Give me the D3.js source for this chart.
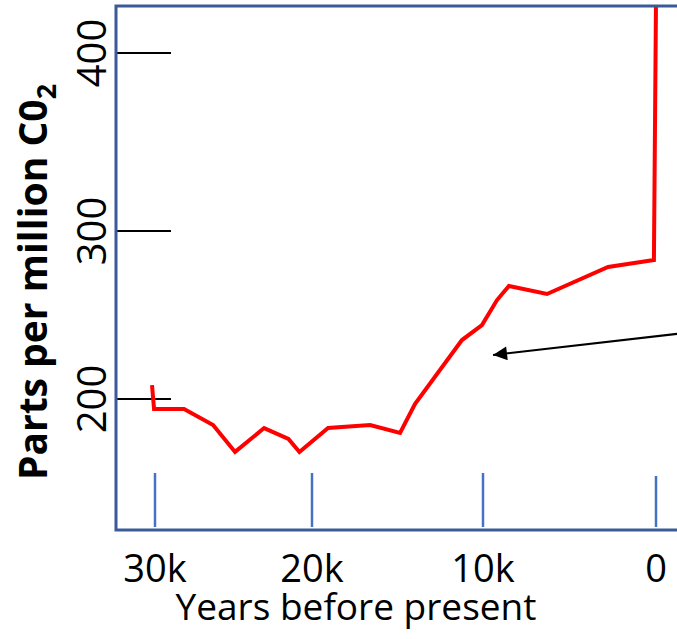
<!DOCTYPE html>
<html>
<head>
<meta charset="utf-8">
<script src="https://cdn.jsdelivr.net/npm/d3@7"></script>
<style>
  body { margin: 0; background: #fff; }
  svg { display: block; }
</style>
</head>
<body>
<div id="chart"></div>
<script>
// CO2 record, years before present (thousands) vs ppm
var years = [30.19, 30.06, 28.15, 26.3, 24.9, 23.05, 21.5, 20.8, 19.06, 16.6, 14.85, 13.98,
             11.23, 10.06, 9.19, 8.5, 6.3, 2.77, 0.12, 0];
var ppm   = [208.3, 194, 194, 184.5, 168.5, 182.7, 176.2, 168.5, 182.7, 184.5, 179.8, 197,
             235.1, 244, 258.9, 267.3, 262.5, 278.6, 282.7, 430];

var xTicks = [30, 20, 10, 0];
var xTickLabels = ['30k', '20k', '10k', '0'];
var yTicks = [200, 300, 400];

// arrow annotation: tail (off to the right) and tip, in data units
var arrowYears = [-3.7, 9.42];
var arrowPpm = [241.7, 226.2];

var width = 677, height = 639;
var frame = {left: 116, top: 6, right: 700, bottom: 530};

var svg = d3.select('#chart').append('svg')
    .attr('width', width)
    .attr('height', height);

// axis spacing in the original is slightly uneven, so piecewise scales
var x = d3.scaleLinear().domain(xTicks).range([155, 312, 483, 656]);
var y = d3.scaleLinear().domain(yTicks).range([399, 231, 53]);

svg.append('defs').append('clipPath')
    .attr('id', 'plotclip')
  .append('rect')
    .attr('x', frame.left)
    .attr('y', frame.top)
    .attr('width', frame.right - frame.left)
    .attr('height', frame.bottom - frame.top);

svg.append('defs').append('marker')
    .attr('id', 'arrowhead')
    .attr('viewBox', '0 0 10 10')
    .attr('refX', 10)
    .attr('refY', 5)
    .attr('markerWidth', 8)
    .attr('markerHeight', 7)
    .attr('markerUnits', 'strokeWidth')
    .attr('orient', 'auto')
  .append('path')
    .attr('d', 'M0,0 L10,5 L0,10 Z')
    .attr('fill', '#000');

// y tick marks (black, inside frame)
svg.selectAll('.ytick')
    .data(yTicks)
  .enter().append('line')
    .attr('x1', frame.left)
    .attr('x2', frame.left + 55)
    .attr('y1', function(d) { return y(d); })
    .attr('y2', function(d) { return y(d); })
    .attr('stroke', '#000')
    .attr('stroke-width', 2);

// y tick labels, rotated
svg.selectAll('.ylabel')
    .data(yTicks)
  .enter().append('text')
    .attr('transform', function(d) { return 'translate(106,' + y(d) + ') rotate(-90)'; })
    .attr('text-anchor', 'middle')
    .style('font', '40px "Open Sans"')
    .attr('fill', '#000')
    .text(function(d) { return d; });

// x tick marks (blue, inside frame)
svg.selectAll('.xtick')
    .data(xTicks)
  .enter().append('line')
    .attr('x1', function(d) { return x(d); })
    .attr('x2', function(d) { return x(d); })
    .attr('y1', function(d, i) { return i == 3 ? 476 : 473; })
    .attr('y2', 527)
    .attr('stroke', '#4472C4')
    .attr('stroke-width', 2.5);

svg.selectAll('.xlabel')
    .data(xTicks)
  .enter().append('text')
    .attr('x', function(d) { return x(d); })
    .attr('y', 582)
    .attr('text-anchor', 'middle')
    .style('font', '38px "Open Sans"')
    .attr('fill', '#000')
    .text(function(d, i) { return xTickLabels[i]; });

// axis titles
svg.append('text')
    .attr('x', 356)
    .attr('y', 620)
    .attr('text-anchor', 'middle')
    .style('font', '37px "Open Sans"')
    .attr('fill', '#000')
    .text('Years before present');

var yTitle = svg.append('text')
    .attr('transform', 'translate(47,' + 282 + ') rotate(-90)')
    .attr('text-anchor', 'middle')
    .style('font', 'bold 39px "Open Sans"')
    .attr('fill', '#000');
yTitle.append('tspan').text('Parts per million C0');
yTitle.append('tspan')
    .attr('dy', 9)
    .style('font-size', '27px')
    .text('2');

// CO2 line
var data = years.map(function(d, i) { return {year: d, value: ppm[i]}; });

var line = d3.line()
    .x(function(d) { return x(d.year); })
    .y(function(d) { return y(d.value); });

svg.append('path')
    .datum(data)
    .attr('clip-path', 'url(#plotclip)')
    .attr('d', line)
    .attr('fill', 'none')
    .attr('stroke', '#FF0000')
    .attr('stroke-width', 4)
    .attr('stroke-linejoin', 'miter');

// arrow
svg.append('line')
    .attr('x1', x(arrowYears[0]))
    .attr('y1', y(arrowPpm[0]))
    .attr('x2', x(arrowYears[1]))
    .attr('y2', y(arrowPpm[1]))
    .attr('stroke', '#000')
    .attr('stroke-width', 2)
    .attr('marker-end', 'url(#arrowhead)');

// frame
svg.append('rect')
    .attr('x', frame.left)
    .attr('y', frame.top)
    .attr('width', frame.right - frame.left)
    .attr('height', frame.bottom - frame.top)
    .attr('fill', 'none')
    .attr('stroke', '#3A5A98')
    .attr('stroke-width', 3);
</script>
</body>
</html>
